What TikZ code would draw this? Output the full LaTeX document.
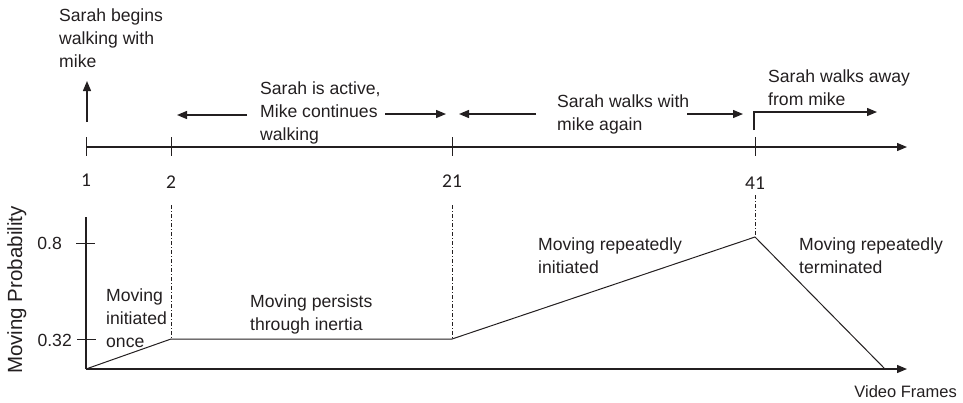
\documentclass[tikz,border=0pt]{standalone}
\usepackage{fontspec}
\setmainfont{Liberation Sans}
\newfontfamily\numfont{Carlito}
\usetikzlibrary{arrows.meta}
\definecolor{ink}{HTML}{231F20}
\begin{document}
\begin{tikzpicture}[x=1pt,y=-1pt,
  lbl/.style={anchor=base west, inner sep=0pt, align=left, text=ink, font=\fontsize{17.6}{22.6}\selectfont},
  num/.style={anchor=base, inner sep=0pt, text=ink, font=\numfont\fontsize{19.5}{22}\selectfont},
  val/.style={anchor=base east, inner sep=0pt, text=ink, font=\fontsize{17.6}{20}\selectfont},
  axis/.style={draw=ink, line width=1.3pt},
  tick/.style={draw=ink, line width=1pt},
  arr/.style={draw=ink, line width=1.3pt, -{Triangle[length=10pt,width=8pt]}},
  guide/.style={draw=ink, line width=0.7pt, dash pattern=on 4pt off 2pt on 1pt off 2pt},
  curve/.style={draw=ink, line width=1pt}]
\useasboundingbox (0,0) rectangle (963,402);

% ---------- top timeline ----------
\coordinate (t0) at (86,147);
\coordinate (tend) at (907,147);
\draw[arr] (t0) -- (tend);
\foreach \n/\x in {a/86,b/171,c/452,d/755}{
  \coordinate (tk\n u) at (\x,137);
  \coordinate (tk\n d) at (\x,156);
  \draw[tick] (tk\n u) -- (tk\n d);
}
\node[num] (n1) at (86,186) {1};
\node[num] (n2) at (171,188) {2};
\node[num] (n21) at (452,187) {21};
\node[num] (n41) at (755,189) {41};

% event arrows
\coordinate (upS) at (87,122);
\coordinate (upE) at (87,81);
\draw[arr] (upS) -- (upE);
\node[lbl] (begin) at (59,67) {Sarah begins\\walking with\\mike};

\coordinate (l1S) at (247,115);
\coordinate (l1E) at (177,115);
\draw[arr] (l1S) -- (l1E);
\coordinate (r1S) at (385,114);
\coordinate (r1E) at (446,114);
\draw[arr] (r1S) -- (r1E);
\node[lbl] (active) at (260,140) {Sarah is active,\\Mike continues\\walking};

\coordinate (l2S) at (536,114);
\coordinate (l2E) at (459,114);
\draw[arr] (l2S) -- (l2E);
\coordinate (r2S) at (687,114);
\coordinate (r2E) at (743,114);
\draw[arr] (r2S) -- (r2E);
\node[lbl] (again) at (557,130) {Sarah walks with\\mike again};

\coordinate (bS) at (754,130);
\coordinate (bC) at (754,112);
\coordinate (bE) at (877,112);
\draw[arr] (bS) -- (bC) -- (bE);
\node[lbl] (away) at (768,105.5) {Sarah walks away\\from mike};

% ---------- bottom chart ----------
\coordinate (yTop) at (86,217);
\coordinate (org) at (86,369);
\coordinate (xEnd) at (907,369);
\draw[axis] (yTop) -- (org);
\draw[arr] (org) -- (xEnd);
\coordinate (t8a) at (76,243); \coordinate (t8b) at (95,243);
\coordinate (t3a) at (77,339); \coordinate (t3b) at (96,339);
\draw[tick] (t8a) -- (t8b);
\draw[tick] (t3a) -- (t3b);
\node[val] (v8) at (62,249) {0.8};
\node[val] (v32) at (72,346) {0.32};
\node[rotate=90, anchor=base, inner sep=0pt, text=ink, font=\fontsize{20.5}{24}\selectfont] (ylab) at (22,290) {Moving Probability};
\node[anchor=base east, inner sep=0pt, text=ink, font=\fontsize{16.5}{20}\selectfont] (xlab) at (957,397) {Video Frames};

\coordinate (p0) at (86,369);
\coordinate (p1) at (171,339);
\coordinate (p2) at (452,339);
\coordinate (p3) at (755,237);
\coordinate (p4) at (885,369);
\draw[curve] (p0) -- (p1) -- (p2) -- (p3) -- (p4);

\coordinate (g1) at (171,205);
\coordinate (g2) at (452,205);
\coordinate (g3) at (755,195);
\draw[guide] (g1) -- (p1);
\draw[guide] (g2) -- (p2);
\draw[guide] (g3) -- (p3);

\node[lbl] (once) at (106,347) {Moving\\initiated\\once};
\node[lbl] (persist) at (250,330) {Moving persists\\through inertia};
\node[lbl] (rinit) at (538,273.5) {Moving repeatedly\\initiated};
\node[lbl] (rterm) at (799,273.5) {Moving repeatedly\\terminated};
\end{tikzpicture}
\end{document}
